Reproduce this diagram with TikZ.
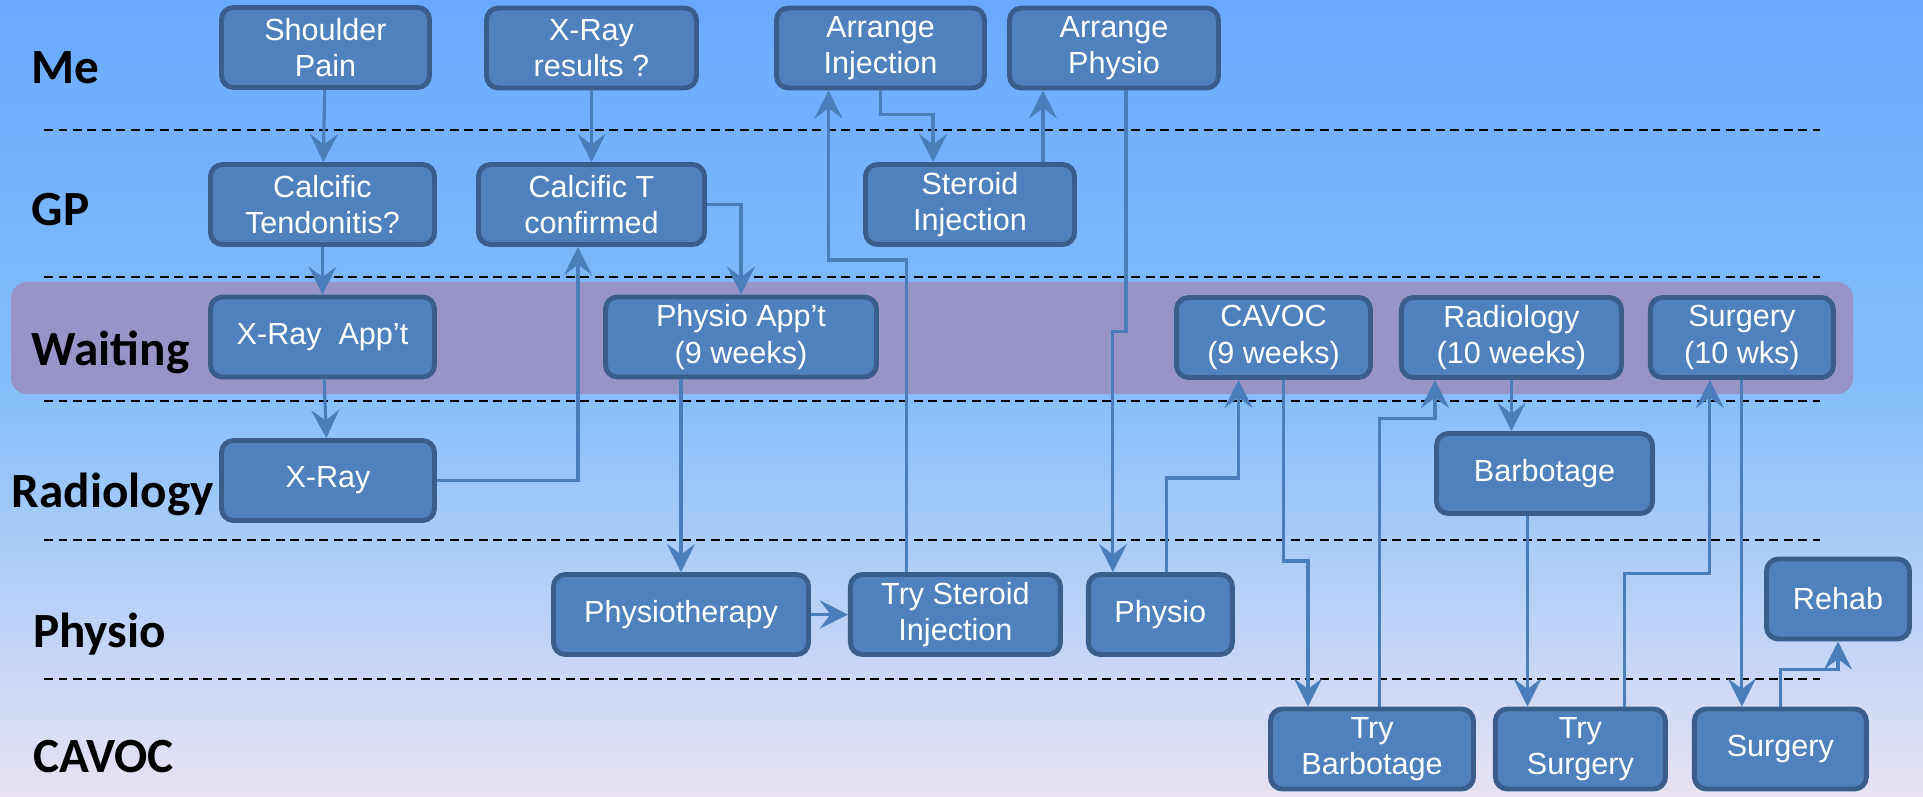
\documentclass[tikz,border=0pt]{standalone}
\usepackage{fontspec}
\setmainfont{Liberation Sans}
\newfontfamily\lanefont{Carlito}
\usetikzlibrary{arrows.meta,positioning}
\definecolor{boxfill}{HTML}{4F81BD}
\definecolor{boxline}{HTML}{3A5E8C}
\definecolor{flowblue}{HTML}{4A7EBB}
\definecolor{waitband}{HTML}{9994C8}
\definecolor{skytop}{HTML}{6AA9FF}
\definecolor{skymid}{HTML}{86BFFA}
\definecolor{skybot}{HTML}{E8E2F4}
\tikzstyle{activity} = [draw=boxline, fill=boxfill, line width=1.4pt, rounded corners=0.12cm, minimum height=0.8cm, inner sep=0pt, align=center, text=white, font=\fontsize{8.7}{10.4}\selectfont]
\tikzstyle{lane} = [anchor=base west, inner sep=0pt, font=\lanefont\bfseries\fontsize{14}{16}\selectfont]
\tikzstyle{divider} = [dash pattern=on 0.09cm off 0.055cm, line width=0.75pt]
\tikzstyle{flow} = [draw=flowblue, line width=0.9pt, ->]

\begin{document}
\begin{tikzpicture}[>={Stealth[length=8pt, width=8pt, inset=3pt]}]
		% Background
		\shade[top color=skytop, bottom color=skybot, middle color=skymid] (0,0) rectangle (19.23,-7.96);
		\useasboundingbox (0,0) rectangle (19.23,-7.96);
		\fill[waitband, rounded corners=0.16cm] (0.11,-2.82) rectangle (18.53,-3.94);
		\foreach \y in {1.30,2.77,4.01,5.40,6.79}
			\draw[divider] (0.44,-\y) -- (18.20,-\y);
		% Lanes
		\node[lane] (me)   at (0.31,-0.83)  {Me};
		\node[lane] (gp)   at (0.31,-2.25)  {GP};
		\node[lane] (wait) at (0.31,-3.65)  {Waiting};
		\node[lane] (rad)  at (0.11,-5.07)  {Radiology};
		\node[lane] (phy)  at (0.325,-6.47) {Physio};
		\node[lane] (cav)  at (0.325,-7.72) {CAVOC};
		% Nodes
		\node[activity, minimum width=2.08cm] (pain)    at (3.255,-0.475) {Shoulder\\Pain};
		\node[activity, minimum width=2.10cm] (xres)    at (5.915,-0.48)  {X-Ray\\results ?};
		\node[activity, minimum width=2.08cm] (arrinj)  at (8.805,-0.48)  {Arrange\\Injection};
		\node[activity, minimum width=2.09cm] (arrphys) at (11.14,-0.48)  {Arrange\\Physio};
		\node[activity, minimum width=2.24cm] (calc)    at (3.225,-2.045) {Calcific\\Tendonitis?};
		\node[activity, minimum width=2.26cm] (conf)    at (5.915,-2.045) {Calcific T\\confirmed};
		\node[activity, minimum width=2.09cm] (steroid) at (9.70,-2.045)  {Steroid\\Injection};
		\node[activity, minimum width=2.24cm] (xapp)    at (3.225,-3.37)  {X-Ray\ \ App’t};
		\node[activity, minimum width=2.71cm] (papp)    at (7.41,-3.37)   {Physio App’t\\(9 weeks)};
		\node[activity, minimum width=1.94cm] (cavapp)  at (12.735,-3.375) {CAVOC\\(9 weeks)};
		\node[activity, minimum width=2.20cm] (radapp)  [right=0.26cm of cavapp] {Radiology\\(10 weeks)};
		\node[activity, minimum width=1.83cm] (surapp)  [right=0.24cm of radapp] {Surgery\\(10 wks)};
		\node[activity, minimum width=2.13cm] (xray)    at (3.28,-4.805)  {X-Ray};
		\node[activity, minimum width=2.16cm] (barb)    at (15.445,-4.735) {Barbotage};
		\node[activity, minimum width=2.55cm] (ther)    at (6.81,-6.145)  {Physiotherapy};
		\node[activity, minimum width=2.10cm] (tryster) [right=0.37cm of ther] {Try Steroid\\Injection};
		\node[activity, minimum width=1.44cm] (physio)  [right=0.23cm of tryster] {Physio};
		\node[activity, minimum width=1.43cm] (rehab)   at (18.38,-5.99)  {Rehab};
		\node[activity, minimum width=2.03cm] (trybarb) at (13.72,-7.49)  {Try\\Barbotage};
		\node[activity, minimum width=1.70cm] (trysurg) [right=0.17cm of trybarb] {Try\\Surgery};
		\node[activity, minimum width=1.72cm] (surgery) [right=0.24cm of trysurg] {Surgery};
		% Arrows
		\path
		(pain) edge[flow] (calc)
		(xres) edge[flow] (conf)
		(calc) edge[flow] (xapp)
		(xapp) edge[flow] (xray)
		;
		\draw[flow] (xray.east) -| ([xshift=-0.135cm]conf.south);
		\draw[flow] (conf.east) -| (papp.north);
		\draw[flow] (papp.south -| ther.north) -- (ther.north);
		\draw[flow] (ther.east) -- (ther.east -| tryster.west);
		\draw[flow] ([xshift=-0.49cm]tryster.north) -- ++(0,3.12) -| ([xshift=-0.52cm]arrinj.south);
		\draw[flow] (arrinj.south) -- ++(0,-0.24) -| ([xshift=-0.37cm]steroid.north);
		\draw[flow] ([xshift=0.73cm]steroid.north) -- ([xshift=0.73cm]steroid.north |- arrphys.south);
		\draw[flow] ([xshift=0.12cm]arrphys.south) -- ++(0,-2.41) -| ([xshift=-0.475cm]physio.north);
		\draw[flow] ([xshift=0.065cm]physio.north) -- ++(0,0.94) -| ([xshift=-0.35cm]cavapp.south);
		\draw[flow] ([xshift=0.10cm]cavapp.south) -- ++(0,-1.81) -| ([xshift=-0.64cm]trybarb.north);
		\draw[flow] ([xshift=0.075cm]trybarb.north) -- ++(0,2.88) -| ([xshift=-0.765cm]radapp.south);
		\draw[flow] (radapp.south) -- (radapp.south |- barb.north);
		\draw[flow] ([xshift=-0.17cm]barb.south) -- ([xshift=-0.17cm]barb.south |- trysurg.north);
		\draw[flow] ([xshift=0.44cm]trysurg.north) -- ++(0,1.33) -| ([xshift=-0.32cm]surapp.south);
		\draw[flow] (surapp.south) -- (surapp.south |- surgery.north);
		\draw[flow] (surgery.north) -- ++(0,0.37) -| (rehab.south);
	\end{tikzpicture}
\end{document}
